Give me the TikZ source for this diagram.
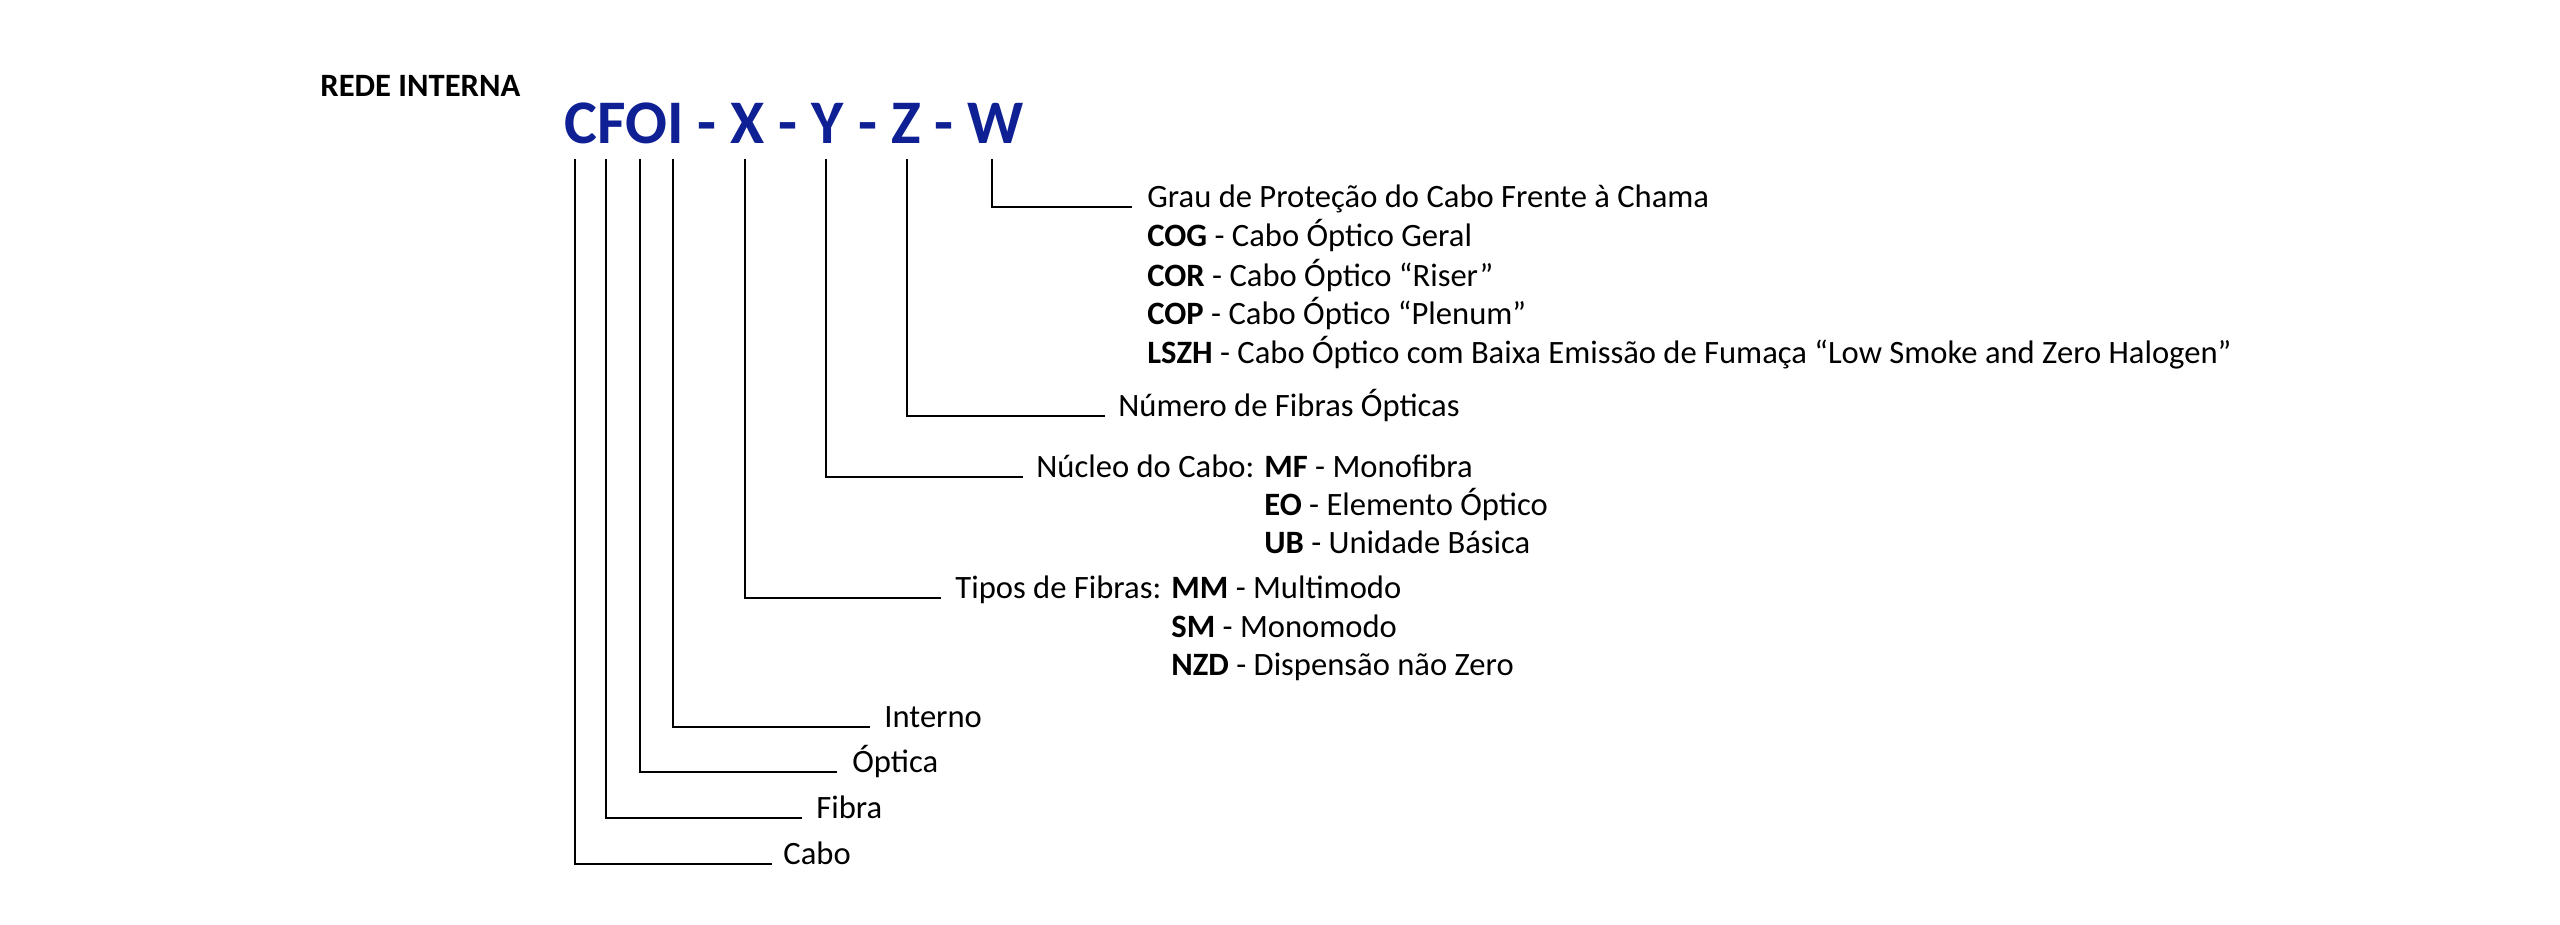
\documentclass[tikz,border=0pt]{standalone}
\usepackage{fontspec}
\setmainfont{Carlito}
\definecolor{titleblue}{RGB}{14,32,148}
\begin{document}
\begin{tikzpicture}[x=0.5pt,y=-0.5pt,
  lbl/.style={anchor=base west,inner sep=0pt,font=\fontsize{16.3}{19}\selectfont},
  conn/.style={line width=1.25pt,line cap=rect}]
\useasboundingbox[fill=white] (0,0) rectangle (2560,925);
\node[anchor=base west,inner sep=0pt,font=\fontsize{16.3}{19}\selectfont\bfseries] (rede) at (320,97) {REDE INTERNA};
\node[anchor=base west,inner sep=0pt,font=\fontsize{31}{37}\selectfont\bfseries,text=titleblue] (title) at (564,144) {CFOI - X - Y - Z - W};
% tops of connectors
\coordinate (tC) at (575,160);
\coordinate (tF) at (606,160);
\coordinate (tO) at (640,160);
\coordinate (tI) at (673,160);
\coordinate (tX) at (745,160);
\coordinate (tY) at (826,160);
\coordinate (tZ) at (907,160);
\coordinate (tW) at (992,160);
% ends of connectors
\coordinate (eW) at (1131,207);
\coordinate (eZ) at (1104,416);
\coordinate (eY) at (1022,477);
\coordinate (eX) at (940,598);
\coordinate (eI) at (869,727);
\coordinate (eO) at (836,772);
\coordinate (eF) at (801,818);
\coordinate (eC) at (771,864);
\foreach \a in {C,F,O,I,X,Y,Z,W} \draw[conn] (t\a) |- (e\a);
% labels
\node[lbl] (grau) at (1147,208) {Grau de Proteção do Cabo Frente à Chama};
\node[lbl] (cog) at (1147,247) {\textbf{COG} - Cabo Óptico Geral};
\node[lbl] (cor) at (1147,286) {\textbf{COR} - Cabo Óptico “Riser”};
\node[lbl] (cop) at (1147,325) {\textbf{COP} - Cabo Óptico “Plenum”};
\node[lbl] (lszh) at (1147,364) {\textbf{LSZH} - Cabo Óptico com Baixa Emissão de Fumaça “Low Smoke and Zero Halogen”};
\node[lbl] (num) at (1118,416) {Número de Fibras Ópticas};
\node[lbl] (nuc) at (1036,477) {Núcleo do Cabo:};
\node[lbl] (mf) at (1264,477) {\textbf{MF} - Monofibra};
\node[lbl] (eo) at (1264,515) {\textbf{EO} - Elemento Óptico};
\node[lbl] (ub) at (1264,553) {\textbf{UB} - Unidade Básica};
\node[lbl] (tip) at (955,598) {Tipos de Fibras:};
\node[lbl] (mm) at (1171,598) {\textbf{MM} - Multimodo};
\node[lbl] (sm) at (1171,637) {\textbf{SM} - Monomodo};
\node[lbl] (nzd) at (1171,675) {\textbf{NZD} - Dispensão não Zero};
\node[lbl] (int) at (884,727) {Interno};
\node[lbl] (opt) at (852,772) {Óptica};
\node[lbl] (fib) at (816,818) {Fibra};
\node[lbl] (cab) at (783,864) {Cabo};
\end{tikzpicture}
\end{document}
